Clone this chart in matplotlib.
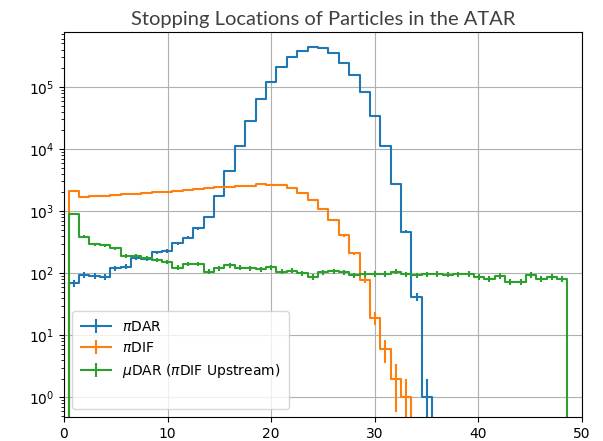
import numpy as np
import matplotlib.pyplot as plt
from matplotlib.lines import Line2D

# common binning of the stopping position (same edges for every sample)
bin_start = 0.45
bin_width = 1.003

# counts per bin
pi_dar_counts = [69, 93, 90, 88, 120, 127, 174, 172, 217, 228,
                 302, 372, 528, 810, 1740, 4380, 11000, 28000, 63000, 120000,
                 209000, 302000, 380000, 437000, 423000, 345000, 242000, 158000, 83000, 34000,
                 11200, 2690, 466, 42, 1]
pi_dif_counts = [2090, 1700, 1720, 1760, 1800, 1850, 1900, 1960, 2000, 2050,
                 2100, 2150, 2250, 2320, 2400, 2450, 2520, 2560, 2690, 2600,
                 2600, 2320, 1960, 1500, 1100, 720, 410, 209, 78, 19,
                 6, 2, 1]
mu_dar_counts = [890, 385, 290, 283, 250, 189, 189, 173, 163, 153,
                 123, 141, 141, 106, 120, 135, 123, 120, 115, 125,
                 106, 110, 100, 88, 104, 108, 104, 92, 98, 98,
                 98, 106, 96, 92, 96, 97, 95, 96, 98, 88,
                 80, 90, 73, 73, 94, 80, 87, 80]

labels = [r'$\pi$DAR', r'$\pi$DIF', r'$\mu$DAR ($\pi$DIF Upstream)']
y_ticks = [1, 10, 100, 1000, 10000, 100000]


def padded(counts):
    # add an empty bin on each side so the step drops to zero at the edges
    c = np.array([0] + counts + [0], dtype=float)
    centers = bin_start + bin_width * (np.arange(len(c)) - 0.5)
    return centers, c


fig, ax = plt.subplots(figsize=(6.03, 4.41), dpi=100)
fig.subplots_adjust(left=0.106, right=0.965, bottom=0.054, top=0.927)

for counts, label in zip([pi_dar_counts, pi_dif_counts, mu_dar_counts], labels):
    x, y = padded(counts)
    ax.errorbar(x, y, yerr=np.sqrt(y), drawstyle='steps-mid', lw=1.5, label=label)

ax.set_yscale('log')
ax.set_yticks(y_ticks)
ax.set_xlim(0, 50)
ax.set_ylim(0.48, 7.6e5)
ax.grid(True)
ax.set_title('Stopping Locations of Particles in the ATAR', fontfamily='Lato',
             fontsize=14.5, color='#404040', pad=5)

# the original legend box has a blank row at the bottom
handles, labs = ax.get_legend_handles_labels()
handles.append(Line2D([], [], color='none'))
labs.append(' ')
ax.legend(handles, labs, loc='lower left', handlelength=2.2,
          borderpad=0.6, borderaxespad=0.6)

plt.savefig('out.png')
